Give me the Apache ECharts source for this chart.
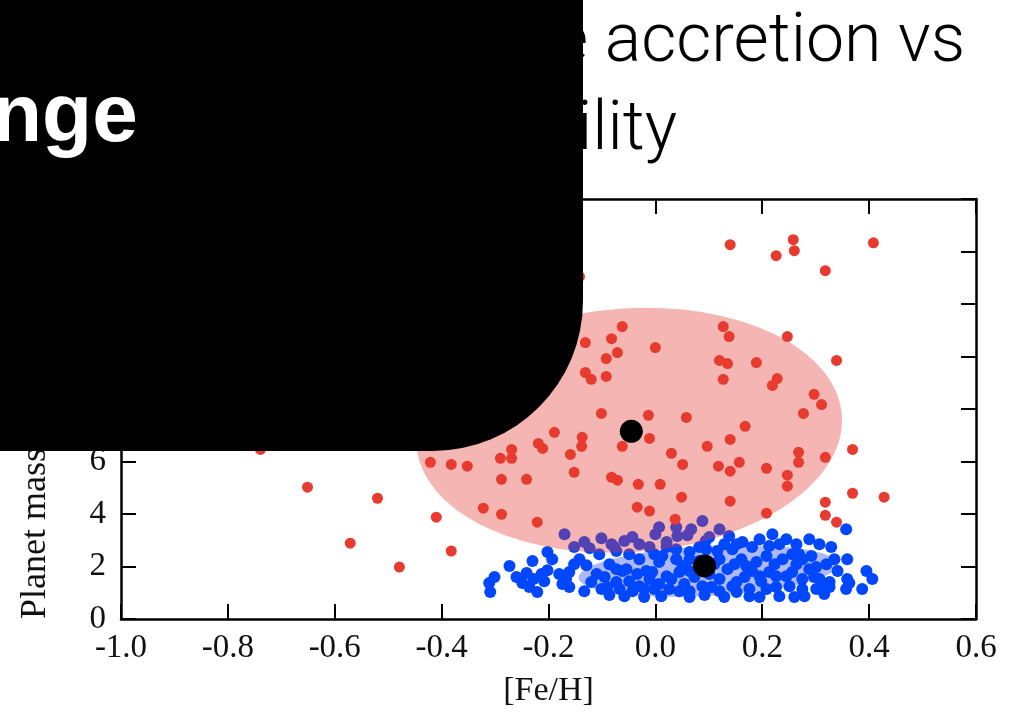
<!DOCTYPE html>
<html><head><meta charset="utf-8">
<script src="https://cdn.jsdelivr.net/npm/echarts@6/dist/echarts.min.js"></script>
<style>html,body{margin:0;padding:0;background:#fff;}#c{width:1025px;height:713px;}</style>
</head><body><div id="c"></div>
<script>
// ---- data ----
const xTickLabels = ['-1.0','-0.8','-0.6','-0.4','-0.2','0.0','0.2','0.4','0.6'];
const yTickLabels = ['0','2','4','6','8','10','12','14','16'];
const xMin = -1.0, xMax = 0.6, xStep = 0.2;
const yMin = 0, yMax = 16, yStep = 2;

const redPoints = [
[0.140,14.26],[0.226,13.84],[0.258,14.45],[0.260,14.03],[0.318,13.27],[0.408,14.33],[-0.142,13.04],[0.247,10.76],[0.339,9.85],
[-0.739,6.46],[-0.651,5.02],[-0.520,4.60],[-0.410,3.88],[-0.571,2.89],[-0.382,2.59],[-0.479,1.98],
[-0.062,11.14],[-0.082,10.68],[-0.131,10.53],[-0.071,10.15],[-0.092,9.92],[0.000,10.34],[-0.131,9.39],[-0.120,9.13],[-0.092,9.24],
[0.127,11.14],[0.138,10.76],[0.120,9.85],[0.135,9.73],[0.189,9.77],[0.127,9.13],[0.219,8.90],[0.228,9.16],[0.297,8.56],[0.311,8.17],[0.277,7.83],
[-0.101,7.83],[-0.013,7.76],[0.058,7.68],[0.168,7.34],[-0.189,7.11],[-0.137,6.92],[-0.138,6.58],[-0.011,6.88],[-0.062,6.58],[-0.219,6.69],[-0.211,6.50],[-0.269,6.46],[-0.269,6.12],[-0.290,6.12],[-0.159,6.27],
[0.097,6.58],[0.140,6.84],[0.030,6.31],[0.051,5.89],[0.118,5.82],[0.140,5.63],[0.157,5.97],[0.208,5.74],[0.268,6.35],[0.268,5.97],[0.318,6.16],[0.369,6.46],[0.247,5.48],[0.247,5.06],
[-0.421,5.97],[-0.382,5.89],[-0.352,5.82],[-0.152,5.59],[-0.082,5.40],[-0.071,5.29],[-0.032,5.13],[0.009,5.13],[-0.288,5.32],[-0.241,5.32],
[0.049,4.64],[0.140,4.49],[-0.034,4.26],[-0.011,4.11],[0.037,3.80],[0.208,4.03],[0.318,4.45],[0.318,3.95],[0.339,3.69],[0.369,4.79],[0.428,4.64],[-0.322,4.22],[-0.288,3.99],[-0.221,3.69]
];

const bluePoints = [
[-0.311,1.37],[-0.309,1.03],[-0.301,1.60],[-0.273,2.02],[-0.260,1.60],[-0.249,1.37],[-0.236,1.22],[-0.228,1.52],[-0.221,1.03],[-0.213,1.71],[-0.202,1.86],[-0.230,2.21],[-0.202,2.55],[-0.241,1.75],
[-0.170,3.23],[-0.152,2.74],[-0.133,2.93],[-0.123,2.70],[-0.101,3.08],[-0.073,2.59],[-0.043,3.12],[-0.011,2.74],[0.000,3.23],[0.021,2.93],[0.039,3.50],[0.041,3.16],[0.060,3.19],[0.067,3.42],[0.088,3.73],[0.094,2.97],[0.120,3.42],[0.138,3.16],[-0.030,2.85],[-0.058,2.97],
[-0.142,2.28],[-0.129,2.05],[-0.161,1.79],[-0.174,1.33],[-0.161,1.22],[-0.110,1.71],[-0.101,1.14],[-0.086,2.09],[-0.073,1.41],[-0.062,1.83],[-0.049,1.44],[-0.043,1.06],[-0.030,2.28],[-0.017,1.83],[-0.002,1.14],[0.007,2.17],[0.021,1.63],[0.026,1.14],
[-0.167,1.52],[-0.090,1.22],[-0.054,1.90],[-0.021,1.14],[-0.006,1.79],[0.013,2.40],[0.021,2.74],[0.039,2.66],[0.064,2.55],[0.051,2.02],[0.030,1.52],[0.011,0.87],[0.045,1.06],[0.088,1.25],[0.039,2.28],[0.064,2.28],[0.064,1.06],[0.073,1.60],
[0.095,2.66],[0.116,2.59],[0.120,2.28],[0.144,2.66],[0.163,2.93],[0.181,2.74],[0.152,2.85],[0.219,3.23],[0.245,3.04],[0.288,3.04],[0.307,2.85],[0.213,2.78],[0.208,2.40],[0.238,2.28],[0.269,2.47],[0.161,2.28],[0.189,2.17],[0.256,2.47],[0.275,2.28],[0.301,1.98],[0.320,2.09],[0.170,2.02],[0.181,1.83],[0.213,1.79],[0.195,1.63],[0.226,1.63],[0.245,1.63],[0.256,1.79],[0.275,1.52],[0.288,1.90],[0.307,1.52],[0.326,1.41],[0.326,1.22],[0.152,1.41],[0.120,1.52],[0.120,1.06],[0.152,1.03],[0.144,1.25],[0.176,1.14],[0.208,1.14],[0.226,1.22],[0.251,1.25],[0.275,1.14],[0.301,1.14],[0.312,1.33],
[0.357,3.42],[0.359,2.28],[0.359,1.52],[0.357,1.14],[0.395,1.83],[0.406,1.52],[0.387,1.14],[0.363,1.37],
[-0.086,0.91],[-0.058,0.87],[-0.021,0.84],[0.064,0.84],[0.092,0.91],[0.176,0.87],[0.232,0.87],[0.279,0.87],[0.316,0.95],[0.064,1.83],[0.101,1.71],[0.082,2.21],[0.105,1.22],[0.135,1.90],[0.148,2.09],[0.167,1.60],[0.198,1.44],[0.264,2.09],[0.292,2.40],[0.335,2.28],[0.341,1.83],[0.232,2.85],[0.264,2.85],[0.195,3.04],[0.329,2.74],
[-0.073,1.90],[-0.095,1.60],[-0.120,1.41],[-0.133,1.06],[-0.152,2.09],[-0.180,1.71],[-0.034,1.71],[-0.011,1.52],[0.007,1.33],[-0.030,1.25],[-0.067,1.14],[0.082,2.74],[-0.002,2.47],[-0.049,2.47],[-0.105,2.47],[-0.077,2.74],[0.045,1.79],[0.129,0.84],[0.195,0.84],[0.260,0.84],[0.297,1.60],[0.223,2.09],[0.129,2.85],[0.101,3.12],[0.007,3.50],[-0.082,2.85],[-0.193,2.28],[-0.208,1.44],[0.054,1.33],[0.110,2.09]
];

const meanPoints = [[-0.045, 7.15], [0.092, 2.02]];
// ellipse: centre x, centre y, half-width (Fe/H), half-height (mass), tilt (deg)
const redEllipse = [[-0.049, 7.19, 0.399, 4.64, 4]];
const blueEllipse = [[0.099, 1.83, 0.243, 0.95, 3]];

// ---- chart ----
const chart = echarts.init(document.getElementById('c'), null, {renderer: 'canvas'});
const labelFont = {fontFamily: '"Liberation Serif", serif', fontSize: 33, color: '#111'};

function ellipseRenderer(fill) {
  return function (params, api) {
    const c = api.coord([api.value(0), api.value(1)]);
    const s = api.size([api.value(2), api.value(3)]);
    const tilt = api.value(4) * Math.PI / 180;
    const pts = [];
    const n = 160;
    for (let i = 0; i < n; i++) {
      const t = i / n * Math.PI * 2;
      const ex = s[0] * Math.cos(t), ey = s[1] * Math.sin(t);
      pts.push([c[0] + ex * Math.cos(tilt) + ey * Math.sin(tilt),
                c[1] - ex * Math.sin(tilt) + ey * Math.cos(tilt)]);
    }
    return {type: 'polygon', shape: {points: pts}, style: {fill: fill, stroke: null}};
  };
}

const axisLineStyle = {show: true, onZero: false, lineStyle: {color: '#000', width: 2.5}};
const tickStyle = {show: true, inside: true, length: 15, lineStyle: {color: '#000', width: 2}};

chart.setOption({
  animation: false,
  backgroundColor: '#fff',
  grid: {left: 121, top: 199, right: 49, bottom: 93, containLabel: false},
  xAxis: [
    {type: 'value', min: xMin, max: xMax, interval: xStep, position: 'bottom',
     axisLine: axisLineStyle, axisTick: tickStyle, splitLine: {show: false},
     axisLabel: Object.assign({margin: 13, formatter: v => xTickLabels[Math.round((v - xMin) / xStep)]}, labelFont),
     name: '[Fe/H]', nameLocation: 'middle', nameGap: 55,
     nameTextStyle: {fontFamily: '"Liberation Serif", serif', fontSize: 34, color: '#111'}},
    {type: 'value', min: xMin, max: xMax, interval: xStep, position: 'top',
     axisLine: axisLineStyle, axisTick: tickStyle, splitLine: {show: false}, axisLabel: {show: false}}
  ],
  yAxis: [
    {type: 'value', min: yMin, max: yMax, interval: yStep, position: 'left',
     axisLine: axisLineStyle, axisTick: tickStyle, splitLine: {show: false},
     axisLabel: Object.assign({margin: 15, formatter: v => yTickLabels[Math.round((v - yMin) / yStep)]}, labelFont)},
    {type: 'value', min: yMin, max: yMax, interval: yStep, position: 'right',
     axisLine: axisLineStyle, axisTick: tickStyle, splitLine: {show: false}, axisLabel: {show: false}}
  ],
  series: [
    {type: 'custom', name: 'blue ellipse', z: 1, silent: true, renderItem: ellipseRenderer('rgba(20,50,240,0.34)'), data: blueEllipse},
    {type: 'scatter', name: 'blue', z: 2, symbol: 'circle', symbolSize: 12, itemStyle: {color: '#0047ff', opacity: 1}, data: bluePoints},
    {type: 'custom', name: 'red ellipse', z: 3, silent: true, renderItem: ellipseRenderer('rgba(228,58,48,0.37)'), data: redEllipse},
    {type: 'scatter', name: 'red', z: 4, symbol: 'circle', symbolSize: 11, itemStyle: {color: '#e63b2e', opacity: 1}, data: redPoints},
    {type: 'scatter', name: 'mean', z: 5, symbol: 'circle', symbolSize: 23, itemStyle: {color: '#000', opacity: 1}, data: meanPoints}
  ],
  graphic: [
    {type: 'text', z: 100, x: 36, y: 619, rotation: Math.PI / 2,
     style: {text: 'Planet mass (M\u2097)', fontFamily: '"Liberation Serif", serif', fontSize: 36, fill: '#111', align: 'left', verticalAlign: 'middle'}},
    {type: 'text', z: 100, x: 553, y: 44,
     style: {text: 'e accretion vs', fontFamily: 'Roboto, sans-serif', fontWeight: 300, fontSize: 68, fill: '#000', align: 'left', verticalAlign: 'middle'}},
    {type: 'text', z: 100, x: 577, y: 132,
     style: {text: 'ility', fontFamily: 'Roboto, sans-serif', fontWeight: 300, fontSize: 68, fill: '#000', align: 'left', verticalAlign: 'middle'}},
    {type: 'rect', z: 110, shape: {x: -10, y: -10, width: 593, height: 461, r: [0, 0, 150, 0]}, style: {fill: '#000'}},
    {type: 'text', z: 120, x: -8, y: 118,
     style: {text: 'nge', fontFamily: '"Liberation Sans", Arial, sans-serif', fontWeight: 'bold', fontSize: 82, fill: '#fff', align: 'left', verticalAlign: 'middle'}}
  ]
});
</script></body></html>
